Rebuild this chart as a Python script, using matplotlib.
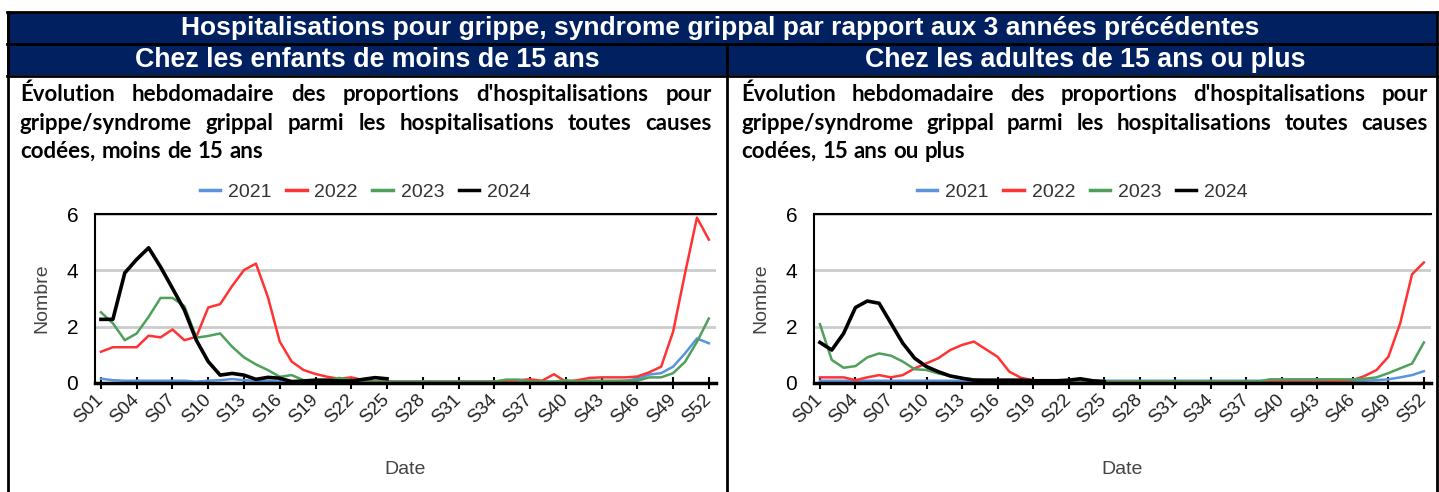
import matplotlib
matplotlib.use("Agg")
import matplotlib.pyplot as plt
from matplotlib.patches import Rectangle

# semaines S01..S52
semaines = ["S%02d" % i for i in range(1, 53)]
annees = ["2021", "2022", "2023", "2024"]
couleurs = ["#5B93DC", "#FF3333", "#4FA05B", "#000000"]

# moins de 15 ans
enf_2021 = [0.15, 0.1, 0.08, 0.08, 0.08, 0.08, 0.08, 0.08, 0.05, 0.08,
            0.1, 0.14, 0.1, 0.08, 0.08, 0.05, 0.05, 0.05, 0.05, 0.05,
            0.05, 0.05, 0.05, 0.05, 0.05, 0.05, 0.05, 0.05, 0.05, 0.05,
            0.05, 0.05, 0.05, 0.05, 0.05, 0.05, 0.05, 0.05, 0.05, 0.05,
            0.05, 0.05, 0.05, 0.06, 0.08, 0.15, 0.3, 0.35, 0.58, 1.05,
            1.58, 1.41]
enf_2022 = [1.11, 1.27, 1.27, 1.27, 1.68, 1.62, 1.9, 1.52, 1.64, 2.68,
            2.8, 3.44, 4.01, 4.24, 3.06, 1.47, 0.76, 0.46, 0.32, 0.22,
            0.15, 0.2, 0.1, 0.05, 0.05, 0.05, 0.05, 0.05, 0.05, 0.05,
            0.05, 0.05, 0.05, 0.05, 0.05, 0.1, 0.13, 0.08, 0.31, 0.05,
            0.1, 0.18, 0.2, 0.2, 0.2, 0.23, 0.38, 0.58, 1.82, 3.89,
            5.87, 5.09]
enf_2023 = [2.51, 2.12, 1.52, 1.76, 2.35, 3.02, 3.02, 2.73, 1.61, 1.67,
            1.76, 1.29, 0.91, 0.66, 0.46, 0.22, 0.28, 0.1, 0.1, 0.1,
            0.18, 0.1, 0.05, 0.05, 0.05, 0.05, 0.05, 0.05, 0.05, 0.05,
            0.05, 0.05, 0.05, 0.05, 0.12, 0.12, 0.05, 0.05, 0.05, 0.1,
            0.05, 0.08, 0.08, 0.08, 0.08, 0.08, 0.2, 0.2, 0.35, 0.75,
            1.46, 2.29]
enf_2024 = [2.26, 2.26, 3.91, 4.39, 4.8, 4.12, 3.36, 2.59, 1.52, 0.76,
            0.28, 0.34, 0.28, 0.13, 0.2, 0.17, 0.05, 0.07, 0.1, 0.1,
            0.07, 0.07, 0.13, 0.19, 0.15]

# 15 ans ou plus
adu_2021 = [0.08] * 47 + [0.1, 0.13, 0.2, 0.28, 0.42]
adu_2022 = [0.2, 0.2, 0.2, 0.1, 0.2, 0.28, 0.2, 0.28, 0.52, 0.7,
            0.88, 1.17, 1.35, 1.47, 1.2, 0.93, 0.4, 0.18, 0.1, 0.05,
            0.05, 0.05, 0.05, 0.05, 0.05, 0.05, 0.05, 0.05, 0.05, 0.05,
            0.05, 0.05, 0.05, 0.05, 0.05, 0.05, 0.05, 0.05, 0.05, 0.05,
            0.05, 0.05, 0.05, 0.05, 0.08, 0.1, 0.25, 0.46, 0.93, 2.12,
            3.86, 4.28]
adu_2023 = [2.09, 0.82, 0.54, 0.6, 0.91, 1.05, 0.97, 0.76, 0.49, 0.46,
            0.34, 0.25, 0.17, 0.13, 0.1, 0.1, 0.1, 0.08, 0.08, 0.08,
            0.08, 0.08, 0.05, 0.05, 0.05, 0.05, 0.05, 0.05, 0.05, 0.05,
            0.05, 0.05, 0.05, 0.05, 0.05, 0.05, 0.05, 0.05, 0.13, 0.13,
            0.13, 0.13, 0.13, 0.13, 0.13, 0.13, 0.15, 0.2, 0.35, 0.52,
            0.69, 1.44]
adu_2024 = [1.44, 1.17, 1.76, 2.68, 2.91, 2.83, 2.12, 1.41, 0.88, 0.58,
            0.4, 0.25, 0.17, 0.1, 0.1, 0.1, 0.1, 0.1, 0.08, 0.08,
            0.08, 0.1, 0.15, 0.08, 0.05]

titre = "Hospitalisations pour grippe, syndrome grippal par rapport aux 3 années précédentes"
sous_titres = ["Chez les enfants de moins de 15 ans", "Chez les adultes de 15 ans ou plus"]
descriptions = [
    ["Évolution hebdomadaire des proportions d'hospitalisations pour",
     "grippe/syndrome grippal parmi les hospitalisations toutes causes",
     "codées, moins de 15 ans"],
    ["Évolution hebdomadaire des proportions d'hospitalisations pour",
     "grippe/syndrome grippal parmi les hospitalisations toutes causes",
     "codées, 15 ans ou plus"],
]

W, H = 1439, 492
NAVY = "#002060"
fig = plt.figure(figsize=(W / 100, H / 100), dpi=100)

# fond : bandeaux et cadre, en pixels
bg = fig.add_axes([0, 0, 1, 1])
bg.set_xlim(0, W)
bg.set_ylim(H, 0)
bg.axis("off")
bg.add_patch(Rectangle((7, 12), 1431, 63, facecolor=NAVY, edgecolor="none"))
bg.plot([7, 1438], [12, 12], color="black", lw=2)
bg.plot([7, 1438], [43.5, 43.5], color="black", lw=2)
bg.plot([7, 1438], [75.5, 75.5], color="black", lw=2)
bg.plot([8, 8], [12, H], color="black", lw=2)
bg.plot([1437, 1437], [12, H], color="black", lw=2)
bg.plot([727, 727], [43.5, H], color="black", lw=2)

bg.text(720, 28, titre, color="white", ha="center", va="center",
        fontsize=19, fontweight="bold", family="Liberation Sans")
bg.text(367, 60, sous_titres[0], color="white", ha="center", va="center",
        fontsize=19.3, fontweight="bold", family="Liberation Sans")
bg.text(1085, 60, sous_titres[1], color="white", ha="center", va="center",
        fontsize=19.3, fontweight="bold", family="Liberation Sans")

rend = fig.canvas.get_renderer()


def ligne_justifiee(x0, x1, y, phrase, justifier):
    mots = phrase.split(" ")
    textes = [bg.text(0, y, m, fontsize=16, fontweight="bold", family="Lato",
                      ha="left", va="baseline", color="black") for m in mots]
    larg = [t.get_window_extent(rend).width for t in textes]
    if justifier:
        ecart = (x1 - x0 - sum(larg)) / (len(mots) - 1)
    else:
        ecart = 6
    x = x0
    for t, l in zip(textes, larg):
        t.set_x(x)
        x += l + ecart


for x0, x1, desc in [(20, 712, descriptions[0]), (741, 1428, descriptions[1])]:
    for i, phrase in enumerate(desc):
        ligne_justifiee(x0, x1, 101 + i * 28.5, phrase, i < 2)


def graphique(rect, series):
    ax = fig.add_axes(rect)
    x = list(range(1, 53))
    for nom, val, c in zip(annees, series, couleurs):
        ax.plot(x[:len(val)], val, color=c, lw=2.6 if nom == "2024" else 1.8,
                label=nom, solid_joinstyle="round")
    ax.set_xlim(0.5, 52.6)
    ax.set_ylim(0, 6)
    ax.set_yticks([0, 2, 4, 6])
    ax.set_xticks(x[::3])
    ax.set_xticklabels(semaines[::3], rotation=45, ha="right", va="center",
                       rotation_mode="anchor", fontsize=13.5, color="#222222",
                       family="Liberation Sans")
    ax.tick_params(axis="x", direction="inout", length=8, width=1.5, pad=6)
    ax.tick_params(axis="y", length=0, pad=12, labelsize=15)
    for t in ax.get_yticklabels():
        t.set_family("Liberation Sans")
    ax.grid(axis="y", color="#CCCCCC", lw=2)
    ax.set_axisbelow(True)
    ax.spines["right"].set_visible(False)
    ax.spines["top"].set_linewidth(1.5)
    ax.spines["left"].set_linewidth(1.5)
    ax.spines["bottom"].set_linewidth(2.5)
    ax.set_xlabel("Date", fontsize=14, color="#444444", labelpad=25,
                  family="Liberation Sans")
    ax.set_ylabel("Nombre", fontsize=14, color="#444444", labelpad=12,
                  family="Liberation Sans")
    leg = ax.legend(ncol=4, loc="center", bbox_to_anchor=(0.435, 1.13),
                    frameon=False, handlelength=1.05, handletextpad=0.4,
                    columnspacing=0.75,
                    prop={"family": "Liberation Sans", "size": 14})
    for t in leg.get_texts():
        t.set_color("#333333")
    for l in leg.get_lines():
        l.set_linewidth(2.5)
    return ax


graphique([95 / W, 1 - 383 / H, 621 / W, 169 / H],
          [enf_2021, enf_2022, enf_2023, enf_2024])
graphique([814 / W, 1 - 383 / H, 617 / W, 169 / H],
          [adu_2021, adu_2022, adu_2023, adu_2024])

fig.savefig("out.png", dpi=100)
